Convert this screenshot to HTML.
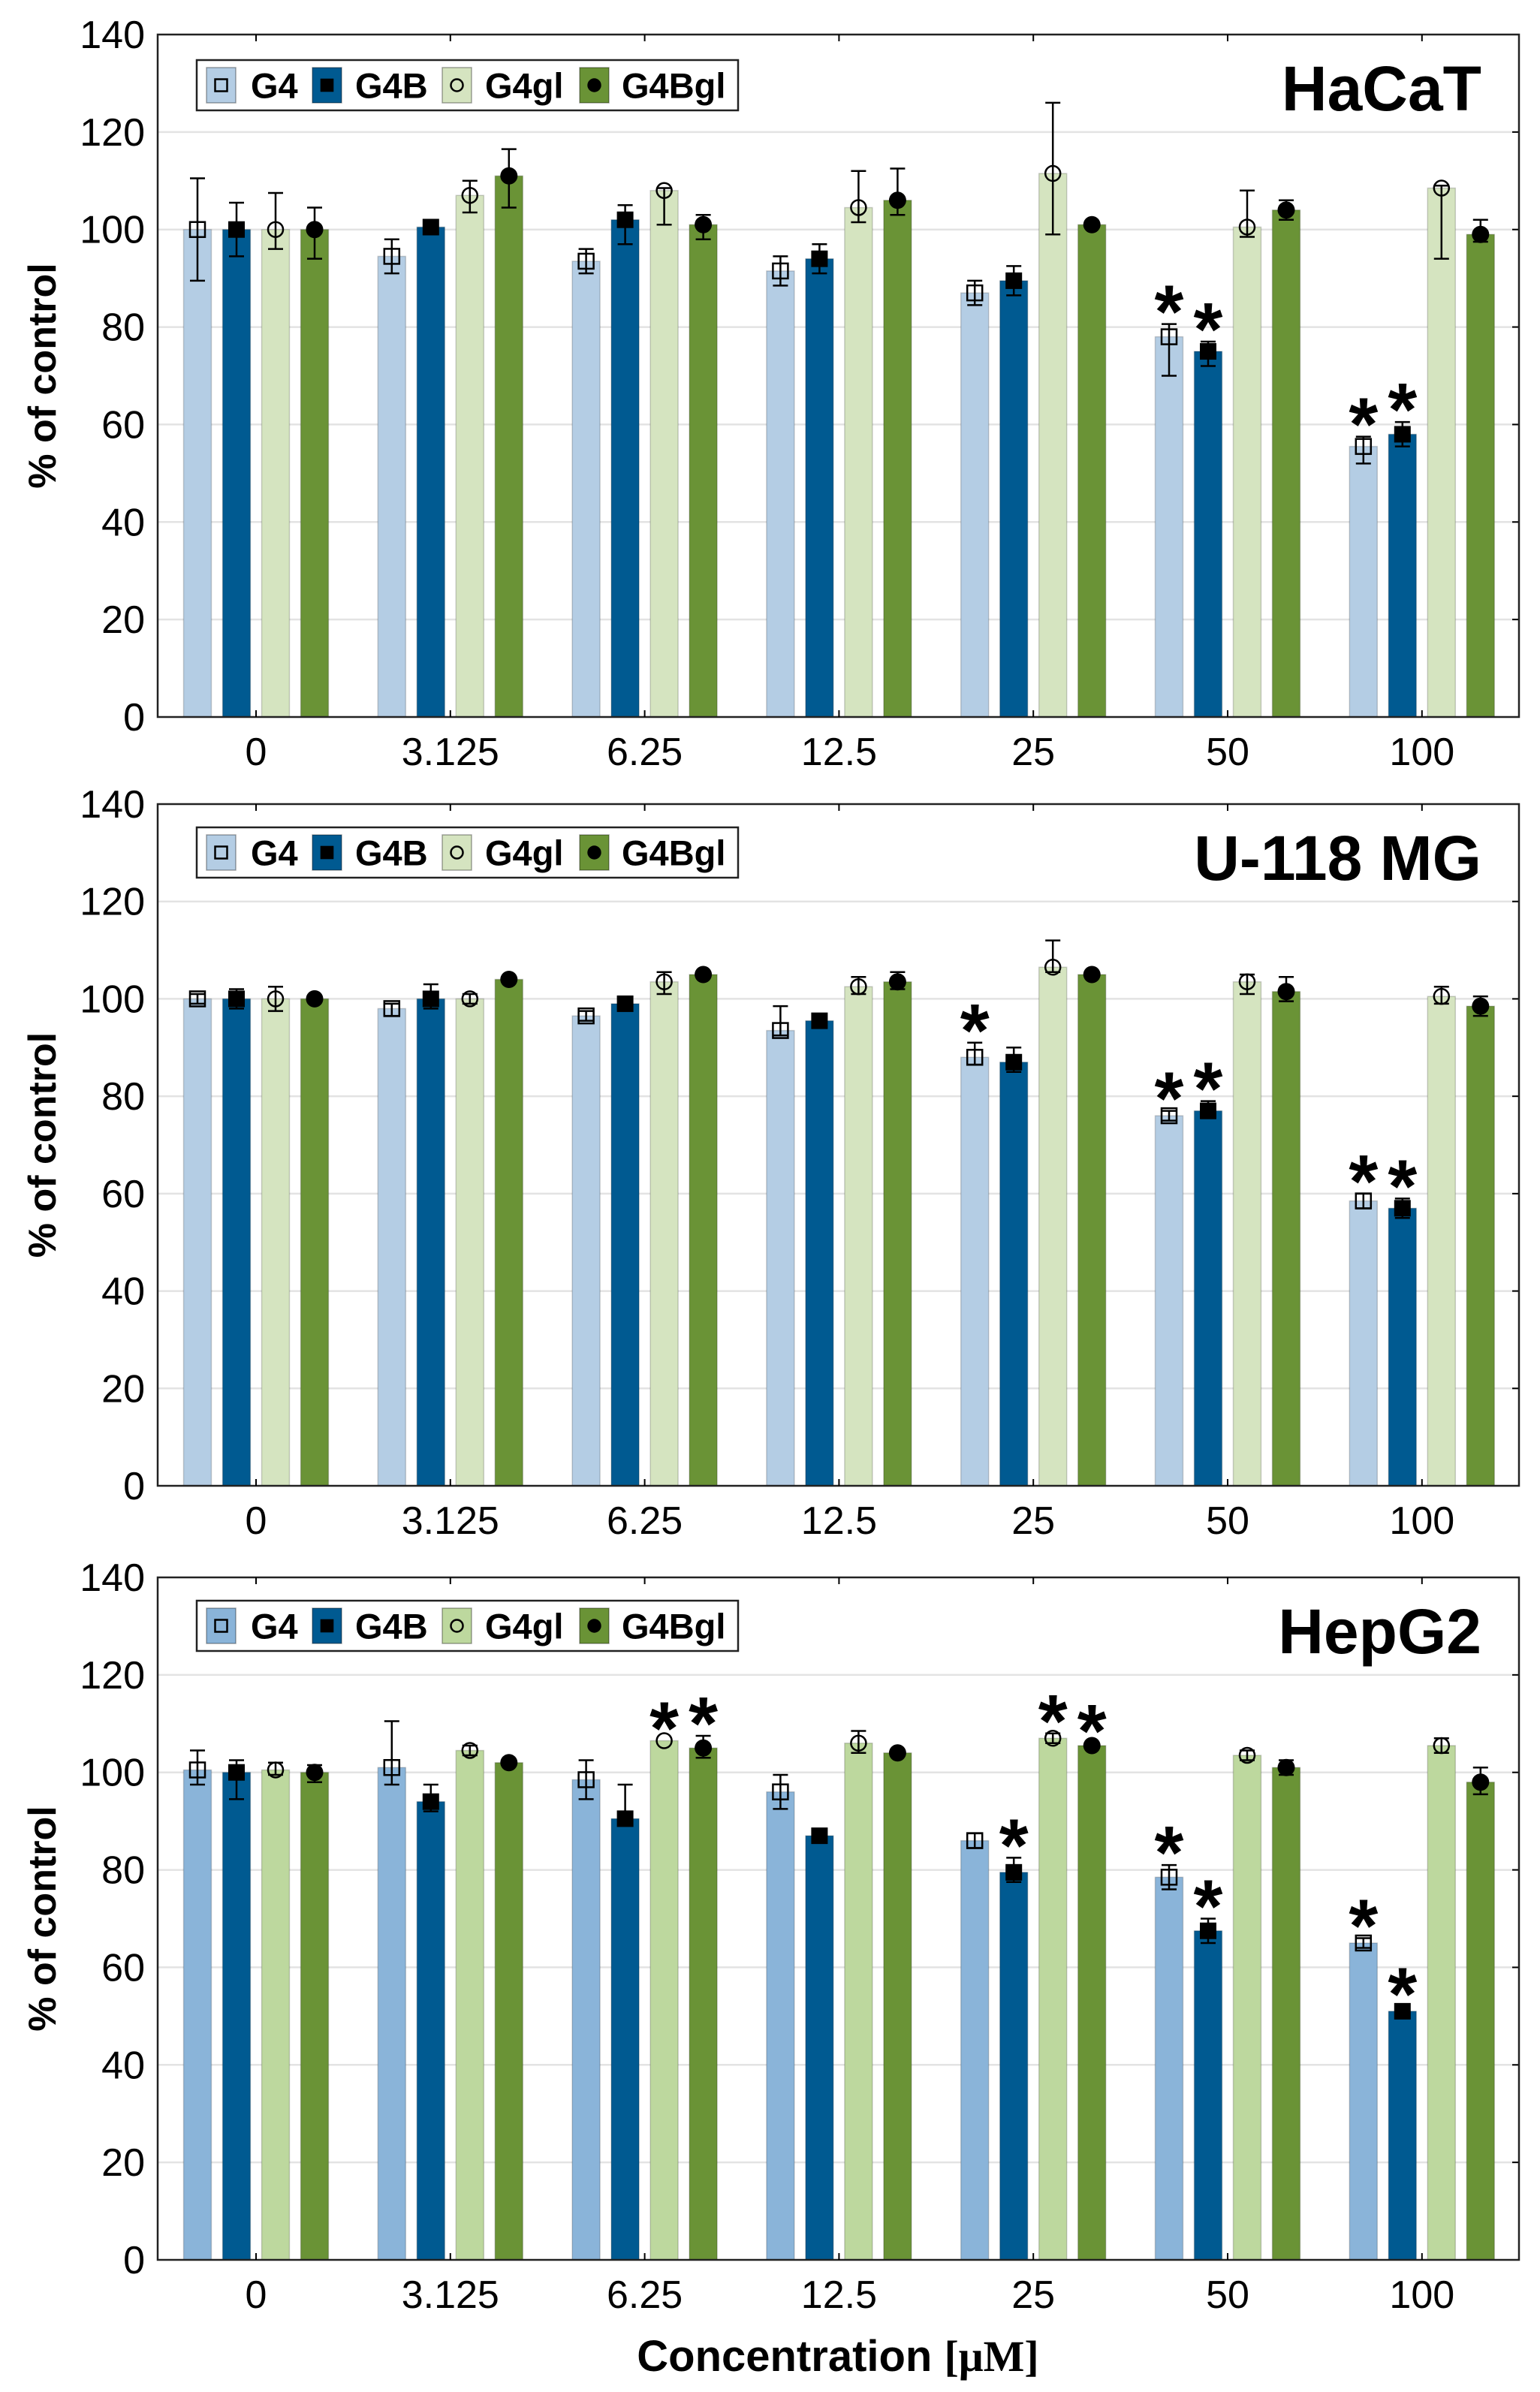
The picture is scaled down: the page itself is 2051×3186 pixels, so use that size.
<!DOCTYPE html>
<html><head><meta charset="utf-8">
<style>html,body{margin:0;padding:0;background:#fff;}svg{display:block;}</style>
</head><body>
<svg id="s" xmlns="http://www.w3.org/2000/svg" width="2051" height="3186" viewBox="0 0 2051 3186"></svg>
<script>
const S=document.getElementById('s');let out='';
const L=210,R=2023;
const gx=i=>341+i*258.8;
const offs=[-78,-26,26,78];
const BW=37;
const xl=['0','3.125','6.25','12.5','25','50','100'];
const panels=[
 {top:46,bot:955,title:'HaCaT',tx:1973,cols:['#b4cde4','#005a91','#d5e4c0','#6a9336'],
  d:[
   [[100,10.5,10.5],[94.5,3.5,3.5],[93.5,2.5,2.5],[91.5,3,3],[87,2.5,2.5],[78,8,2.6],[55.5,3.5,2]],
   [[100,5.5,5.5],[100.5,1.5,1.5],[102,5,3],[94,3,3],[89.5,3,3],[75,3,2],[58,2.5,2.5]],
   [[100,4,7.5],[107,3.5,3],[108,7,0.5],[104.5,3,7.5],[111.5,12.5,14.5],[100.5,2,7.5],[108.5,14.5,0.5]],
   [[100,6,4.5],[111,6.5,5.5],[101,3,2],[106,3,6.5],[101,0,0],[104,2,2],[99,1.5,3]]],
  st:[[0,5],[1,5],[0,6],[1,6]]},
 {top:1071,bot:1979,title:'U-118 MG',tx:1973,cols:['#b4cde4','#005a91','#d5e4c0','#6a9336'],
  d:[
   [[100,1,1],[98,1.5,1],[96.5,1,1],[93.5,1,5],[88,1.5,3],[76,1,1],[58.5,1.5,1.5]],
   [[100,2,2],[100,2,3],[99,1,1],[95.5,1,1],[87,2,3],[77,1.5,2],[57,2,2]],
   [[100,2.5,2.5],[100,1,1],[103.5,2.5,2],[102.5,1.5,2],[106.5,1,5.5],[103.5,2.5,1.5],[100.5,1.5,2]],
   [[100,0,0],[104,0,0],[105,0,0],[103.5,1.5,2],[105,0,0],[101.5,2,3],[98.5,2,2]]],
  st:[[0,4],[0,5],[1,5],[0,6],[1,6]]},
 {top:2101,bot:3010,title:'HepG2',tx:1973,cols:['#8ab4d9','#005a91','#bdd89e','#6a9336'],
  d:[
   [[100.5,3,4],[101,3.5,9.5],[98.5,4,4],[96,3.5,3.5],[86,1.5,1.5],[78.5,2.5,2.5],[65,1,1]],
   [[100,5.5,2.5],[94,2,3.5],[90.5,1,7],[87,0.5,0.5],[79.5,2,3],[67.5,2.5,2.5],[51,1,1]],
   [[100.5,1,1.5],[104.5,1,1],[106.5,0,0],[106,2,2.5],[107,1,1],[103.5,1,1],[105.5,1.5,1.5]],
   [[100,2,1.5],[102,0.5,0.5],[105,2,2.5],[104,0.5,0.5],[105.5,0.5,0.5],[101,1.5,1.5],[98,2.5,3]]],
  st:[[2,2],[3,2],[1,4],[2,4],[3,4],[0,5],[1,5],[0,6],[1,6]]}
];
function marker(k,x,y,s){
 s=s||1;
 if(k==0){const h=10*s;return `<rect x="${x-h}" y="${y-h}" width="${2*h}" height="${2*h}" fill="none" stroke="#000" stroke-width="2.5"/>`;}
 if(k==1){const h=11*s;return `<rect x="${x-h}" y="${y-h}" width="${2*h}" height="${2*h}" fill="#000"/>`;}
 if(k==2){return `<circle cx="${x}" cy="${y}" r="${10*s}" fill="none" stroke="#000" stroke-width="2.5"/>`;}
 return `<circle cx="${x}" cy="${y}" r="${11.5*s}" fill="#000"/>`;
}
panels.forEach(p=>{
 const sc=(p.bot-p.top)/140, Y=v=>p.bot-v*sc;
 for(let v=20;v<140;v+=20){out+=`<line x1="${L}" x2="${R}" y1="${Y(v)}" y2="${Y(v)}" stroke="#e3e3e3" stroke-width="2.5"/>`;}
 for(let v=0;v<=140;v+=20){out+=`<text x="193" y="${Y(v)+18}" text-anchor="end" font-family="Liberation Sans, sans-serif" font-size="52">${v}</text>`;
   out+=`<line x1="${R}" x2="${R-9}" y1="${Y(v)}" y2="${Y(v)}" stroke="#000" stroke-width="2"/>`;}
 for(let k=0;k<4;k++)for(let i=0;i<7;i++){
   const [v,lo,hi]=p.d[k][i],cx=gx(i)+offs[k];
   out+=`<rect x="${cx-BW/2}" y="${Y(v)}" width="${BW}" height="${p.bot-Y(v)}" fill="${p.cols[k]}" stroke="rgba(0,0,0,0.18)" stroke-width="1.5"/>`;
 }
 for(let k=0;k<4;k++)for(let i=0;i<7;i++){
   const [v,lo,hi]=p.d[k][i],cx=gx(i)+offs[k];
   if(lo>0||hi>0){const a=Y(v+hi),b=Y(v-lo);
     out+=`<line x1="${cx}" x2="${cx}" y1="${a}" y2="${b}" stroke="#000" stroke-width="2.5"/>`;
     if(hi>0)out+=`<line x1="${cx-10}" x2="${cx+10}" y1="${a}" y2="${a}" stroke="#000" stroke-width="2.5"/>`;
     if(lo>0)out+=`<line x1="${cx-10}" x2="${cx+10}" y1="${b}" y2="${b}" stroke="#000" stroke-width="2.5"/>`;}
   out+=marker(k,cx,Y(v));
 }
 p.st.forEach(([k,i])=>{const [v,lo,hi]=p.d[k][i],cx=gx(i)+offs[k];const c=Y(v+hi)-40;
   out+=`<text x="${cx}" y="${c+58}" text-anchor="middle" font-family="Liberation Sans, sans-serif" font-weight="bold" font-size="100">*</text>`;});
 out+=`<rect x="${L}" y="${p.top}" width="${R-L}" height="${p.bot-p.top}" fill="none" stroke="#222" stroke-width="2.5"/>`;
 for(let i=0;i<7;i++){out+=`<line x1="${gx(i)}" x2="${gx(i)}" y1="${p.bot}" y2="${p.bot-9}" stroke="#000" stroke-width="2"/><line x1="${gx(i)}" x2="${gx(i)}" y1="${p.top}" y2="${p.top+9}" stroke="#000" stroke-width="2"/>`;
   out+=`<text x="${gx(i)}" y="${p.bot+64}" text-anchor="middle" font-family="Liberation Sans, sans-serif" font-size="52">${xl[i]}</text>`;}
 const my=(p.top+p.bot)/2;
 out+=`<text transform="translate(74 ${my}) rotate(-90)" text-anchor="middle" font-family="Liberation Sans, sans-serif" font-weight="bold" font-size="52">% of control</text>`;
 out+=`<text x="${p.tx}" y="${p.top+101}" text-anchor="end" font-family="Liberation Sans, sans-serif" font-weight="bold" font-size="84">${p.title}</text>`;
 const lt=p.top+(p.title=='HaCaT'?34:31), lh=67;
 out+=`<rect x="262" y="${lt}" width="721" height="${lh}" fill="#fff" stroke="#222" stroke-width="2.5"/>`;
 const px=[275,416,589,772],tx=[334,473,646,828],nm=['G4','G4B','G4gl','G4Bgl'];
 for(let k=0;k<4;k++){
   out+=`<rect x="${px[k]}" y="${lt+10}" width="39" height="${lh-20}" fill="${p.cols[k]}" stroke="rgba(0,0,0,0.35)" stroke-width="1.5"/>`;
   out+=marker(k,px[k]+19.5,lt+lh/2,0.8);
   out+=`<text x="${tx[k]}" y="${lt+lh/2+17}" font-family="Liberation Sans, sans-serif" font-weight="bold" font-size="47">${nm[k]}</text>`;
 }
});
out+=`<text x="1116" y="3158" text-anchor="middle" font-family="Liberation Sans, sans-serif" font-weight="bold" font-size="58">Concentration <tspan font-family="Liberation Serif, serif">[μM]</tspan></text>`;
S.innerHTML=out;
</script>
</body></html>
